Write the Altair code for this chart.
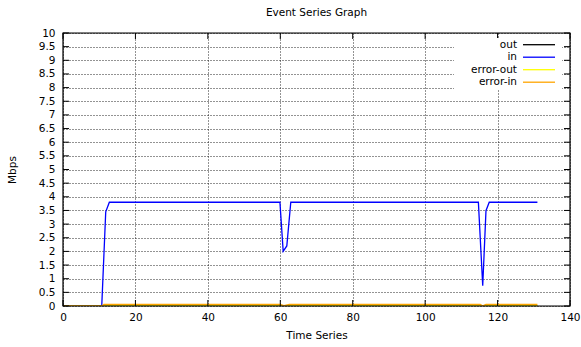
import altair as alt
import pandas as pd

# ---- data ----
in_time = [0, 10.7, 11.8, 12.8, 59.9, 60.8, 61.8, 62.9, 114.7, 115.9, 116.8, 117.7, 131.0]
in_vals = [0, 0, 3.45, 3.8, 3.8, 2.0, 2.2, 3.8, 3.8, 0.74, 3.49, 3.8, 3.8]
out_time = [0, 131.0]
out_vals = [0, 0]
err_out_time = [0, 131.0]
err_out_vals = [0, 0]
err_in_time = [0, 10.7, 11.3, 60.0, 61.0, 62.5, 115.2, 115.9, 116.8, 131.0]
err_in_vals = [0, 0, 0.06, 0.06, 0.01, 0.06, 0.06, 0.01, 0.06, 0.06]

series_names = ["out", "in", "error-out", "error-in"]
series_colors = ["#000000", "#0000ff", "#ffff00", "#ffa500"]

x_ticks = [0, 20, 40, 60, 80, 100, 120, 140]
y_ticks = [0, 0.5, 1, 1.5, 2, 2.5, 3, 3.5, 4, 4.5, 5, 5.5, 6, 6.5, 7, 7.5, 8, 8.5, 9, 9.5, 10]

W, H = 507, 273
FONT = "DejaVu Sans"
FS = 10.5
TICK = 6

series = [
    ("out", out_time, out_vals),
    ("in", in_time, in_vals),
    ("error-out", err_out_time, err_out_vals),
    ("error-in", err_in_time, err_in_vals),
]

xscale = alt.Scale(domain=[0, 140], nice=False, zero=False)
yscale = alt.Scale(domain=[0, 10], nice=False)

common = dict(grid=True, domain=False, ticks=False, labelFlush=False,
              labelFont=FONT, titleFont=FONT, labelFontSize=FS, titleFontSize=FS,
              titleFontWeight="normal", labelColor="black", titleColor="black",
              gridColor="#111111", gridDash=[1, 2], gridWidth=1, gridOpacity=0.9)
x_axis = alt.Axis(values=x_ticks, title="Time Series", labelPadding=6, titlePadding=8,
                  format="d", **common)
y_axis = alt.Axis(values=y_ticks, title="Mbps", labelPadding=8, titlePadding=21,
                  format="~r", **common)

layers = []
for i, (name, ts, vs) in enumerate(series):
    df = pd.DataFrame({"t": ts, "v": vs})
    layers.append(
        alt.Chart(df).mark_line(color=series_colors[i], strokeWidth=1.3, clip=True)
        .encode(x=alt.X("t:Q", scale=xscale, axis=x_axis),
                y=alt.Y("v:Q", scale=yscale, axis=y_axis))
    )

xt = pd.DataFrame({"t": x_ticks})
yt = pd.DataFrame({"v": y_ticks})
tick_bottom = alt.Chart(xt).mark_rule(color="black", strokeWidth=1).encode(
    x=alt.X("t:Q", scale=xscale, axis=x_axis), y=alt.value(H), y2=alt.value(H - TICK))
tick_top = alt.Chart(xt).mark_rule(color="black", strokeWidth=1).encode(
    x=alt.X("t:Q", scale=xscale, axis=x_axis), y=alt.value(0), y2=alt.value(TICK))
tick_left = alt.Chart(yt).mark_rule(color="black", strokeWidth=1).encode(
    y=alt.Y("v:Q", scale=yscale, axis=y_axis), x=alt.value(0), x2=alt.value(TICK))
tick_right = alt.Chart(yt).mark_rule(color="black", strokeWidth=1).encode(
    y=alt.Y("v:Q", scale=yscale, axis=y_axis), x=alt.value(W - TICK), x2=alt.value(W))

border = alt.Chart(pd.DataFrame({"a": [0]})).mark_rect(
    fill=None, stroke="black", strokeWidth=1.2).encode(
    x=alt.value(0), x2=alt.value(W), y=alt.value(0), y2=alt.value(H))

data_layer = alt.layer(*layers, tick_bottom, tick_top, tick_left, tick_right, border)

leg = pd.DataFrame({"name": series_names, "idx": list(range(len(series_names)))})
leg_bg = alt.Chart(pd.DataFrame({"a": [0]})).mark_rect(fill="white", stroke=None).encode(
    x=alt.value(391), x2=alt.value(499), y=alt.value(5), y2=alt.value(57))
leg_base = alt.Chart(leg).transform_calculate(ypix="11.7 + datum.idx * 12.5")
leg_text = leg_base.mark_text(align="right", baseline="middle", font=FONT, fontSize=FS,
                              color="black").encode(
    x=alt.value(454), y=alt.Y("ypix:Q", scale=None, axis=None), text="name:N")
leg_line = leg_base.mark_rule(strokeWidth=1.3).encode(
    x=alt.value(460), x2=alt.value(492), y=alt.Y("ypix:Q", scale=None, axis=None),
    color=alt.Color("name:N", scale=alt.Scale(domain=series_names, range=series_colors), legend=None))
legend_layer = alt.layer(leg_bg, leg_text, leg_line)

chart = alt.layer(data_layer, legend_layer).resolve_scale(y="independent").properties(
    width=W, height=H,
    title=alt.TitleParams("Event Series Graph", font=FONT, fontSize=FS, fontWeight="normal",
                          anchor="middle", offset=10, color="black"),
    autosize=alt.AutoSizeParams(type="none"),
    padding={"left": 63, "top": 33, "right": 11, "bottom": 41},
).configure_view(stroke=None).configure(background="white")

chart.save("out.html", embed_options={"renderer": "svg", "actions": False})
